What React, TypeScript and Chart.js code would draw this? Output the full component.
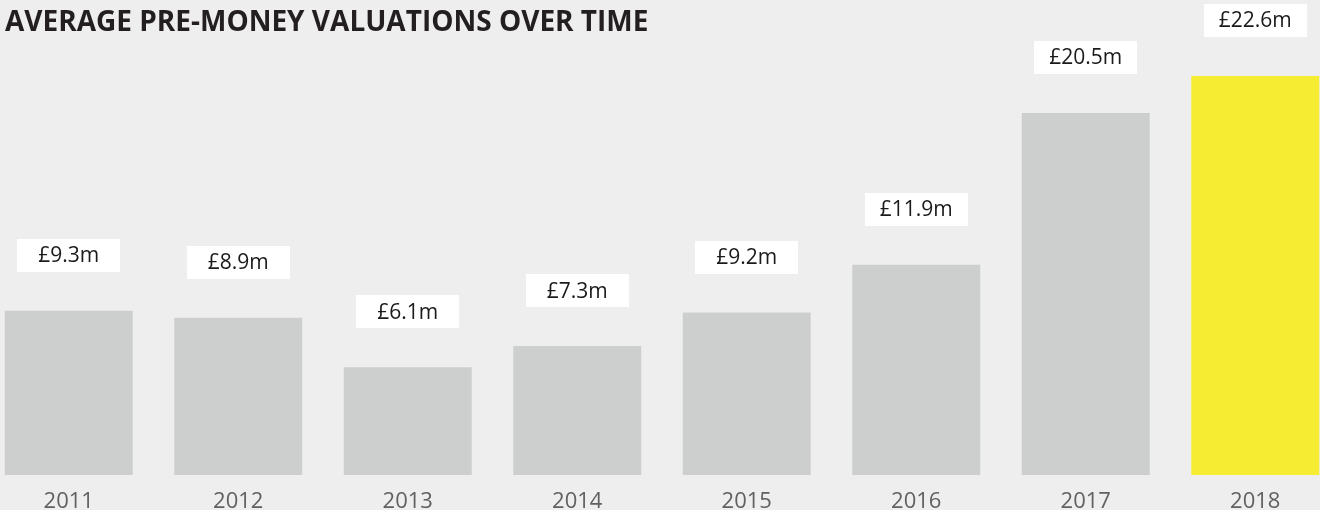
import React, { useEffect, useRef } from "react";
import { Chart, registerables } from "chart.js";

Chart.register(...registerables);

const TITLE = "AVERAGE PRE-MONEY VALUATIONS OVER TIME";
const years = ["2011", "2012", "2013", "2014", "2015", "2016", "2017", "2018"];
const valuations = [9.3, 8.9, 6.1, 7.3, 9.2, 11.9, 20.5, 22.6];
const barColors = ["#cdcfce", "#cdcfce", "#cdcfce", "#cdcfce", "#cdcfce", "#cdcfce", "#cdcfce", "#f6ec32"];

const SHIFT = 16; // canvas is shifted left so the outer bars touch the edges

const labelPlugin = {
  id: "valueLabels",
  afterDatasetsDraw(chart: any) {
    const ctx = chart.ctx;
    const meta = chart.getDatasetMeta(0);
    ctx.save();
    ctx.font = "21px 'Open Sans'";
    ctx.textAlign = "center";
    ctx.textBaseline = "middle";
    meta.data.forEach((bar: any, i: number) => {
      const w = 103;
      const h = 33;
      const bottom = bar.y - 39;
      ctx.fillStyle = "#ffffff";
      ctx.fillRect(Math.round(bar.x - w / 2), Math.round(bottom - h), w, h);
      ctx.fillStyle = "#1a1a1a";
      ctx.fillText("£" + valuations[i].toFixed(1) + "m", bar.x, bottom - h / 2 + 1);
    });
    ctx.restore();
  },
};

const titlePlugin = {
  id: "leftTitle",
  afterDraw(chart: any) {
    const ctx = chart.ctx;
    ctx.save();
    ctx.font = "bold 28px 'Open Sans'";
    ctx.fillStyle = "#231f20";
    ctx.textAlign = "left";
    ctx.textBaseline = "alphabetic";
    ctx.fillText(TITLE, 5 + SHIFT, 31);
    ctx.restore();
  },
};

export default function App() {
  const ref = useRef<HTMLCanvasElement>(null);
  useEffect(() => {
    if (!ref.current) return;
    const chart = new Chart(ref.current, {
      type: "bar",
      data: {
        labels: years,
        datasets: [
          {
            data: valuations,
            backgroundColor: barColors,
            borderWidth: 0,
            categoryPercentage: 0.755,
            barPercentage: 1,
          },
        ],
      },
      options: {
        responsive: false,
        animation: false,
        devicePixelRatio: 1,
        layout: { padding: 0 },
        plugins: {
          legend: { display: false },
          title: { display: false },
          tooltip: { enabled: false },
        },
        scales: {
          x: {
            grid: { display: false, drawTicks: false },
            border: { display: false },
            ticks: {
              color: "#606161",
              font: { family: "'Open Sans'", size: 22 },
              padding: 14,
              maxRotation: 0,
              autoSkip: false,
            },
            afterFit: (scale: any) => {
              scale.height = 35;
            },
          },
          y: {
            display: false,
            min: 0,
            max: 26.9,
          },
        },
      },
      plugins: [labelPlugin, titlePlugin],
    });
    return () => chart.destroy();
  }, []);
  return (
    <div
      style={{
        position: "fixed",
        left: 0,
        top: 0,
        width: 1320,
        height: 510,
        overflow: "hidden",
        background: "#eeeeee",
      }}
    >
      <canvas
        ref={ref}
        width={1356}
        height={510}
        style={{ position: "absolute", left: -SHIFT, top: 0, width: 1356, height: 510 }}
      />
    </div>
  );
}
